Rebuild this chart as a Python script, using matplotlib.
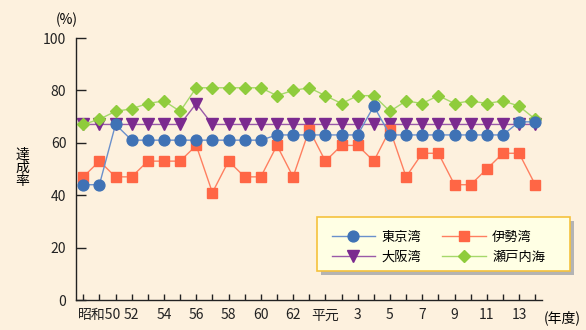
import matplotlib.pyplot as plt
from matplotlib.patches import Rectangle

plt.rcParams['font.family'] = ['Noto Sans CJK JP', 'DejaVu Sans']

# 年度 (昭和49 ～ 平成14)
tick_labels = ['', '昭和50', '', '52', '', '54', '', '56', '', '58', '', '60', '', '62', '',
               '平元', '', '3', '', '5', '', '7', '', '9', '', '11', '', '13', '']

tokyo = [44, 44, 67, 61, 61, 61, 61, 61, 61, 61, 61, 61, 63, 63, 63, 63, 63, 63, 74, 63,
         63, 63, 63, 63, 63, 63, 63, 68, 68]
ise = [47, 53, 47, 47, 53, 53, 53, 59, 41, 53, 47, 47, 59, 47, 65, 53, 59, 59, 53, 65,
       47, 56, 56, 44, 44, 50, 56, 56, 44]
osaka = [67, 67, 67, 67, 67, 67, 67, 75, 67, 67, 67, 67, 67, 67, 67, 67, 67, 67, 67, 67,
         67, 67, 67, 67, 67, 67, 67, 67, 67]
setouchi = [67, 69, 72, 73, 75, 76, 72, 81, 81, 81, 81, 81, 78, 80, 81, 78, 75, 78, 78, 72,
            76, 75, 78, 75, 76, 75, 76, 74, 69]

x = list(range(len(tick_labels)))
bg = '#fdf1de'
fs = 10
W, H = 586, 330

fig = plt.figure(figsize=(5.86, 3.3), dpi=100, facecolor=bg)
ax = fig.add_axes([76 / W, 30 / H, 466 / W, 262 / H], facecolor=bg)

l_osaka, = ax.plot(x, osaka, color='#9a5aa8', lw=1, marker='v', ms=8,
                   mfc='#7b2a8f', mec='#7b2a8f', zorder=2)
l_ise, = ax.plot(x, ise, color='#ff7f60', lw=1, marker='s', ms=7,
                 mfc='#ff6645', mec='#ff6645', zorder=3)
l_seto, = ax.plot(x, setouchi, color='#a6d86a', lw=1, marker='D', ms=6.2,
                  mfc='#8fcc3c', mec='#8fcc3c', zorder=4)
l_tokyo, = ax.plot(x, tokyo, color='#6a90cc', lw=1, marker='o', ms=7.8,
                   mfc='#3f72b5', mec='#3f72b5', zorder=5)

ax.set_xlim(-0.45, 28.42)
ax.set_ylim(0, 100)
ax.set_yticks([0, 20, 40, 60, 80, 100])
ax.set_xticks(x)
ax.set_xticklabels(tick_labels)

for s in ['top', 'right']:
    ax.spines[s].set_visible(False)
for s in ['left', 'bottom']:
    ax.spines[s].set_color('#222222')
    ax.spines[s].set_linewidth(1)

ax.tick_params(axis='y', direction='in', length=7.5, width=1, pad=7,
               labelsize=fs, colors='#222222')
ax.tick_params(axis='x', direction='in', length=4.5, width=1, pad=6,
               labelsize=fs, colors='#222222')

fig.text(67 / W, 1 - 20 / H, '(%)', ha='center', va='center', fontsize=fs)
fig.text(22 / W, 1 - 168 / H, '達\n成\n率', ha='center', va='center',
         fontsize=fs, linespacing=0.95)
fig.text(562 / W, 1 - 318 / H, '(年度)', ha='center', va='center', fontsize=fs)

# legend box with drop shadow
bx0, by0, bx1, by1 = 317, 217, 570, 271
ax.add_patch(Rectangle(((bx0 + 4) / W, 1 - (by1 + 4) / H), (bx1 - bx0) / W,
                       (by1 - by0) / H, transform=fig.transFigure, clip_on=False,
                       facecolor='#b4b4b4', edgecolor='none', zorder=6))
ax.add_patch(Rectangle((bx0 / W, 1 - by1 / H), (bx1 - bx0) / W, (by1 - by0) / H,
                       transform=fig.transFigure, clip_on=False, facecolor='#ffffe4',
                       edgecolor='#f5c23c', lw=1.2, zorder=7))

leg = ax.legend([l_tokyo, l_osaka, l_ise, l_seto], ['東京湾', '大阪湾', '伊勢湾', '瀬戸内海'],
                ncol=2, loc='upper left', bbox_to_anchor=(331.5 / W, 1 - 231 / H),
                bbox_transform=fig.transFigure, fontsize=9.5, frameon=False,
                handlelength=3.33, handletextpad=0.45, columnspacing=1.6,
                labelspacing=0.5, borderpad=0, borderaxespad=0)
leg.set_zorder(10)

fig.savefig('out.png', dpi=100, facecolor=bg)
